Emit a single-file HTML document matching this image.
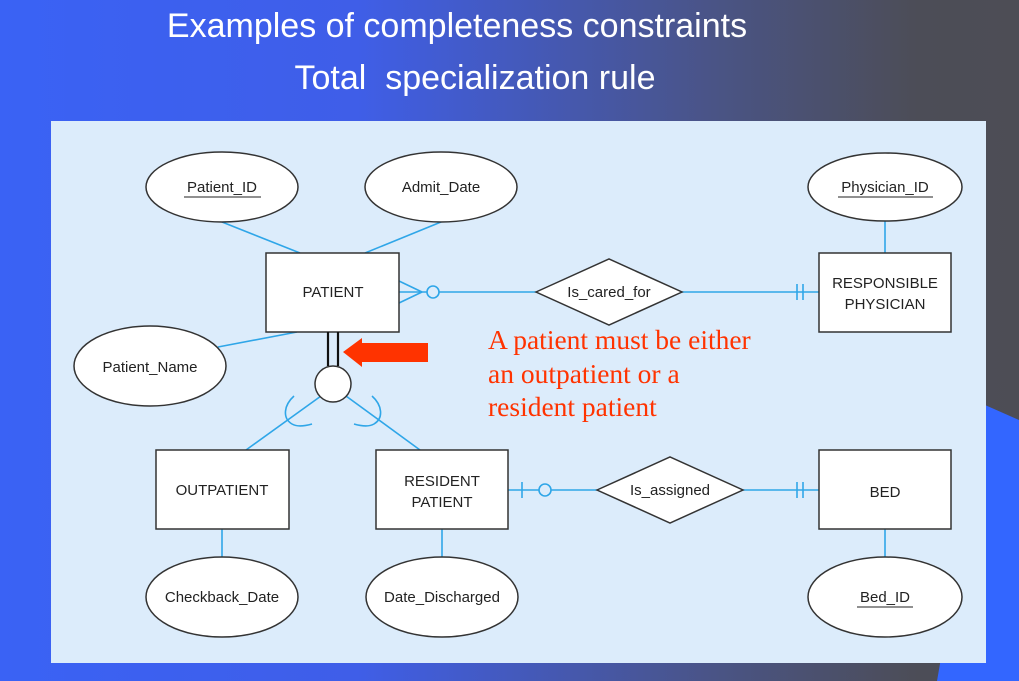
<!DOCTYPE html>
<html><head><meta charset="utf-8"><style>
html,body{margin:0;padding:0;width:1019px;height:681px;overflow:hidden}
body{background:linear-gradient(90deg,#3a62f5 0%,#3f5ee8 35%,#4a5486 70%,#4c4d57 90%,#4d4d55 100%);font-family:"Liberation Sans",sans-serif}
</style></head><body>
<svg width="1019" height="681" viewBox="0 0 1019 681" xmlns="http://www.w3.org/2000/svg" style="position:absolute;left:0;top:0">
<polygon points="985,405 1019,420 1019,681 937,681" fill="#3366ff"/>
<text x="457" y="37" fill="#fff" font-size="34" text-anchor="middle" font-family="Liberation Sans,sans-serif">Examples of completeness constraints</text>
<text x="475" y="89" fill="#fff" font-size="34" text-anchor="middle" font-family="Liberation Sans,sans-serif" xml:space="preserve">Total  specialization rule</text>
<rect x="51" y="121" width="935" height="542" fill="#dcecfb"/>
<g stroke="#2fa6e8" stroke-width="1.6" fill="none">
<line x1="222" y1="222" x2="300" y2="253"/>
<line x1="441" y1="222" x2="365" y2="253"/>
<line x1="218" y1="347" x2="297" y2="332"/>
<line x1="399" y1="281" x2="422" y2="292"/><line x1="399" y1="303" x2="422" y2="292"/>
<line x1="399" y1="292" x2="427" y2="292"/>
<circle cx="433" cy="292" r="6"/>
<line x1="439" y1="292" x2="536" y2="292"/>
<line x1="682" y1="292" x2="819" y2="292"/>
<line x1="797" y1="284" x2="797" y2="300"/><line x1="803" y1="284" x2="803" y2="300"/>
<line x1="885" y1="221" x2="885" y2="253"/>
<line x1="321" y1="396" x2="246" y2="450"/>
<line x1="346" y1="396" x2="420" y2="450"/>
<path d="M294,396 C284,405 282,418 292,424 C297,427 305,426 312,424"/>
<path d="M372,396 C382,405 384,418 374,424 C369,427 361,426 354,424"/>
<line x1="508" y1="490" x2="539" y2="490"/>
<line x1="522" y1="482" x2="522" y2="498"/>
<circle cx="545" cy="490" r="6"/>
<line x1="551" y1="490" x2="597" y2="490"/>
<line x1="743" y1="490" x2="819" y2="490"/>
<line x1="797" y1="482" x2="797" y2="498"/><line x1="803" y1="482" x2="803" y2="498"/>
<line x1="222" y1="529" x2="222" y2="557"/>
<line x1="442" y1="529" x2="442" y2="557"/>
<line x1="885" y1="529" x2="885" y2="557"/>
</g>
<g stroke="#333" stroke-width="1.5" fill="#fff">
<ellipse cx="222" cy="187" rx="76" ry="35"/>
<ellipse cx="441" cy="187" rx="76" ry="35"/>
<ellipse cx="885" cy="187" rx="77" ry="34"/>
<ellipse cx="150" cy="366" rx="76" ry="40"/>
<ellipse cx="222" cy="597" rx="76" ry="40"/>
<ellipse cx="442" cy="597" rx="76" ry="40"/>
<ellipse cx="885" cy="597" rx="77" ry="40"/>
<rect x="266" y="253" width="133" height="79"/>
<rect x="819" y="253" width="132" height="79"/>
<rect x="156" y="450" width="133" height="79"/>
<rect x="376" y="450" width="132" height="79"/>
<rect x="819" y="450" width="132" height="79"/>
<polygon points="536,292 609,259 682,292 609,325"/>
<polygon points="597,490 670,457 743,490 670,523"/>
<circle cx="333" cy="384" r="18"/>
</g>
<g stroke="#111" stroke-width="2.2"><line x1="328" y1="332" x2="328" y2="366"/><line x1="338" y1="332" x2="338" y2="366"/></g>
<polygon points="343,352 362,338 362,343 428,343 428,362 362,362 362,367" fill="#ff3300"/>
<g font-family="Liberation Sans,sans-serif" font-size="15" fill="#222" text-anchor="middle">
<text x="222" y="192">Patient_ID</text><line x1="184" y1="197" x2="261" y2="197" stroke="#222"/>
<text x="441" y="192">Admit_Date</text>
<text x="885" y="192">Physician_ID</text><line x1="838" y1="197" x2="933" y2="197" stroke="#222"/>
<text x="150" y="372">Patient_Name</text>
<text x="333" y="297">PATIENT</text>
<text x="885" y="288">RESPONSIBLE</text><text x="885" y="309">PHYSICIAN</text>
<text x="609" y="297">Is_cared_for</text>
<text x="222" y="495">OUTPATIENT</text>
<text x="442" y="486">RESIDENT</text><text x="442" y="507">PATIENT</text>
<text x="670" y="495">Is_assigned</text>
<text x="885" y="497">BED</text>
<text x="222" y="602">Checkback_Date</text>
<text x="442" y="602">Date_Discharged</text>
<text x="885" y="602">Bed_ID</text><line x1="857" y1="607" x2="913" y2="607" stroke="#222"/>
</g>
<g font-family="Liberation Serif,serif" font-size="27.5" fill="#ff3300">
<text x="488" y="349">A patient must be either</text>
<text x="488" y="383">an outpatient or a</text>
<text x="488" y="416">resident patient</text>
</g>
</svg>
</body></html>
